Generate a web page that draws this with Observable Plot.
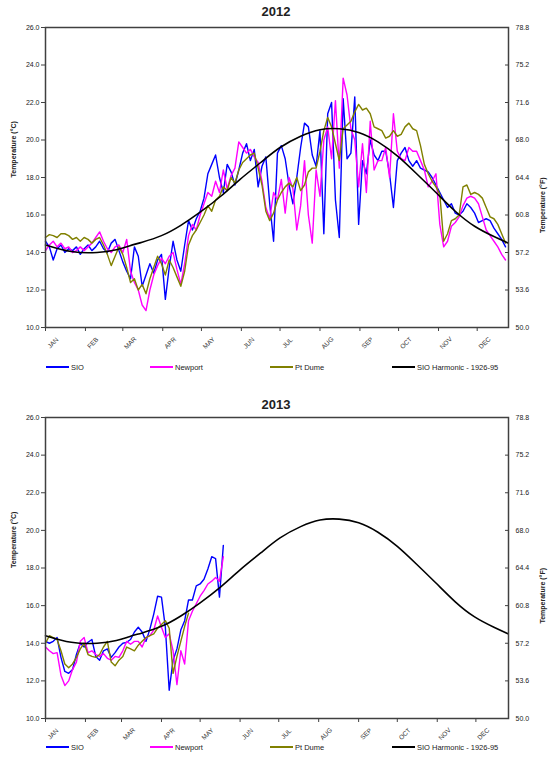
<!DOCTYPE html>
<html><head><meta charset="utf-8">
<script src="https://cdn.jsdelivr.net/npm/d3@7"></script>
<script src="https://cdn.jsdelivr.net/npm/@observablehq/plot@0.6"></script>
<style>
body{margin:0;background:#fff;font-family:"Liberation Sans",Arial,sans-serif;}
#page{position:relative;width:552px;height:764px;overflow:hidden;background:#fff;}
.panel{position:absolute;left:0;}
.title{position:absolute;left:0;width:552px;text-align:center;font-weight:bold;font-size:13px;color:#222;line-height:14px;}
.legend{position:absolute;left:0;width:552px;height:12px;font-size:7.5px;color:#222;}
.item{position:absolute;top:0;height:12px;display:flex;align-items:center;white-space:nowrap;}
.sw{display:inline-block;width:23px;height:0;border-top:2px solid;margin-right:2px;}
</style></head><body><div id="page"></div>
<script>
// ---- text / tick labels ----
const seriesNames = ["SIO", "Newport", "Pt Dume", "SIO Harmonic - 1926-95"];
const seriesColors = ["#0000ff", "#ff00ff", "#808000", "#000000"];
const cTicks = [10, 12, 14, 16, 18, 20, 22, 24, 26];
const fTickLabels = ["50.0", "53.6", "57.2", "60.8", "64.4", "68.0", "71.6", "75.2", "78.8"];
const monthLabels = ["JAN","FEB","MAR","APR","MAY","JUN","JUL","AUG","SEP","OCT","NOV","DEC"];
const yTitleC = "Temperature (°C)";
const yTitleF = "Temperature (°F)";

// ---- harmonic (day of year, °C) ----
const harmonicDays = [0,20,40,55,65,75,90,105,120,136,151,167,182,198,213,228,243,258,273,288,303,318,333,348,359];
const harmonicTemp = [14.4,14.05,14.0,14.15,14.35,14.55,14.9,15.45,16.15,17.0,17.9,18.8,19.6,20.2,20.55,20.6,20.4,19.9,19.15,18.2,17.2,16.2,15.4,14.85,14.5];

// ---- 2012 (every 3rd day of year) ----
const days2012 = d3.range(0, 360, 3);
const sio2012 = [
14.6,14.3,13.6,14.2,14.4,14.0,14.2,14.1,14.3,13.9,
14.2,14.4,14.1,14.3,14.6,14.2,14.0,14.5,14.7,14.1,
13.5,13.0,12.6,14.3,13.8,12.2,12.8,13.4,12.9,13.6,
13.9,11.5,13.2,14.6,13.6,13.0,14.4,15.7,15.2,15.8,
16.2,16.9,18.2,18.7,19.2,18.0,17.2,18.7,18.3,17.6,
18.4,19.3,19.8,18.9,19.5,17.5,18.6,19.1,16.6,14.6,
19.3,19.7,19.0,17.6,16.6,18.0,19.6,20.9,20.7,19.2,
18.6,20.5,15.0,21.4,22.0,16.8,14.8,22.2,19.0,19.3,
22.3,15.5,18.9,18.2,20.0,19.2,18.9,19.4,19.4,18.2,
16.4,18.9,19.3,19.6,18.9,18.6,18.9,18.5,18.4,18.3,
18.0,17.6,17.2,16.8,16.4,16.6,16.1,16.0,16.2,16.6,
16.4,16.1,15.6,15.7,15.8,15.7,15.3,15.0,14.7,14.3];
const newport2012 = [
14.1,14.4,14.6,14.3,14.5,14.2,14.3,14.0,14.1,14.3,
14.1,14.3,14.5,14.8,15.1,14.6,14.2,14.0,14.3,14.4,
14.0,14.7,13.0,12.4,12.0,11.2,10.9,12.0,12.8,13.3,
13.7,13.4,13.8,14.0,13.1,12.3,13.4,14.9,15.5,15.2,
16.0,16.6,17.2,17.0,17.8,17.2,18.4,17.4,18.1,18.5,
19.9,19.6,19.3,19.5,19.1,18.8,17.8,16.4,15.8,17.2,
16.8,17.9,16.1,18.0,17.4,15.2,16.5,18.9,16.0,14.5,
18.4,17.0,20.0,20.7,19.0,22.1,18.5,23.3,22.4,20.6,
20.0,17.5,19.8,17.2,21.0,18.4,18.9,18.9,19.6,18.0,
21.4,19.4,19.0,18.9,19.6,19.4,19.4,18.9,18.4,17.5,
17.8,18.2,15.5,14.3,14.6,15.4,15.6,15.9,16.5,16.9,
17.0,16.9,16.6,15.9,15.2,14.9,14.6,14.3,13.9,13.6];
const dume2012 = [
14.8,14.95,14.9,14.8,15.0,15.0,14.9,14.7,14.8,14.6,
14.8,14.7,14.5,14.7,14.8,14.4,13.9,13.3,13.8,14.3,
13.9,13.2,12.4,12.6,12.0,12.3,11.8,12.6,13.2,13.8,
13.4,12.8,13.6,13.2,12.7,12.2,13.0,14.4,14.9,15.2,
15.6,16.0,16.5,16.2,16.8,17.0,17.5,17.3,18.0,17.7,
18.4,18.8,19.0,19.2,19.3,18.5,17.6,16.2,15.7,16.1,
16.8,17.2,17.5,17.7,17.5,18.0,17.3,17.6,18.3,18.5,
18.5,19.4,20.5,21.2,20.7,19.8,18.9,20.6,20.8,21.0,
21.5,21.9,21.6,21.7,21.4,20.7,20.6,20.5,20.1,20.2,
20.5,20.2,20.3,20.7,20.9,20.6,20.5,19.7,18.7,18.2,
17.8,17.5,17.1,14.6,15.0,15.7,15.8,16.0,17.5,17.6,
17.1,17.2,17.1,16.9,16.4,15.9,15.8,15.5,15.0,14.5];

// ---- 2013 (every 3rd day of year, to mid-May) ----
const days2013 = d3.range(0, 139, 3);
const sio2013 = [
14.1,14.0,14.1,14.3,13.25,12.5,12.4,12.6,13.4,14.0,
13.8,14.05,14.2,13.3,13.1,13.6,13.7,13.25,13.5,13.8,
14.0,14.05,14.2,14.6,14.85,14.6,14.1,14.75,15.55,16.5,
16.45,14.85,11.5,13.1,13.7,14.7,15.2,16.3,16.3,17.05,
17.15,17.4,17.95,18.6,18.5,16.45,19.2];
const newport2013 = [
13.8,13.6,13.45,13.5,12.3,11.75,12.0,12.6,13.0,14.1,
14.3,13.5,13.6,13.4,13.3,13.45,13.2,13.1,13.3,13.25,
13.6,14.1,13.95,14.1,14.1,13.8,14.3,14.4,14.7,15.45,
14.85,14.3,14.5,13.6,11.8,13.6,12.9,15.2,15.7,16.1,
16.5,16.8,17.15,17.3,17.5,17.3,18.6];
const days2013Dume = d3.range(0, 112, 3);
const dume2013 = [
14.0,14.4,14.3,14.2,13.6,12.9,12.7,12.9,13.25,13.7,
14.0,13.4,13.3,13.25,13.4,13.8,14.1,13.0,12.8,13.1,
13.3,13.8,13.7,13.6,13.9,14.1,14.3,14.4,14.5,14.8,
15.0,15.2,14.8,12.4,13.3,14.1,14.9,15.6];

const page = document.getElementById("page");
const FONT = "'Liberation Sans', Arial, sans-serif";

function makePanel(opts) {
  const {year, top, height, marginBottom, series, titleTop, legendTop} = opts;
  const t0 = Date.UTC(year, 0, 1);
  const toDate = d => new Date(t0 + d * 864e5);
  const domain = [toDate(0), toDate(359.3)];
  const months = d3.utcMonths(toDate(0), toDate(359.3));
  const harmonic = harmonicDays.map((d, i) => ({date: toDate(d), temp: harmonicTemp[i]}));
  const lineMarks = series.map(s => Plot.line(
    s.days.map((d, i) => ({date: toDate(d), temp: s.values[i]})),
    {x: "date", y: "temp", stroke: s.color, strokeWidth: 1.4}
  ));
  const chart = Plot.plot({
    width: 552, height,
    marginLeft: 45, marginRight: 44, marginTop: 27, marginBottom,
    style: {fontFamily: FONT, background: "white", overflow: "visible", color: "#222"},
    x: {type: "utc", domain},
    y: {domain: [10, 26]},
    marks: [
      ...lineMarks,
      Plot.line(harmonic, {x: "date", y: "temp", stroke: seriesColors[3], strokeWidth: 1.6, curve: "natural"}),
      Plot.axisY({ticks: cTicks, tickSize: 4, tickPadding: 2, tickFormat: d3.format(".1f"), fontSize: 7, label: null, stroke: "#404040"}),
      Plot.axisY({anchor: "right", ticks: cTicks, tickSize: -4, tickFormat: () => "", label: null, stroke: "#404040"}),
      Plot.axisY({anchor: "right", ticks: cTicks, tickSize: 0, tickPadding: 7, tickFormat: d => fTickLabels[cTicks.indexOf(d)], fontSize: 7, label: null}),
      Plot.axisX({ticks: months, tickSize: 4, tickFormat: () => "", label: null, stroke: "#404040"}),
      Plot.text(months, {x: d => d, frameAnchor: "bottom", text: (d, i) => monthLabels[i], rotate: -45, dx: 9, dy: 17, fontSize: 6.5, fill: "#333"}),
      Plot.text([yTitleC], {frameAnchor: "left", dx: -32, rotate: -90, fontSize: 7, fontWeight: "bold", fill: "#222"}),
      Plot.text([yTitleF], {frameAnchor: "right", dx: 34, rotate: -90, fontSize: 7, fontWeight: "bold", fill: "#222"}),
      Plot.frame({stroke: "#404040", strokeWidth: 1.5})
    ]
  });
  const wrap = document.createElement("div");
  wrap.className = "panel";
  wrap.style.top = top + "px";
  wrap.appendChild(chart);
  page.appendChild(wrap);

  const title = document.createElement("div");
  title.className = "title";
  title.style.top = titleTop + "px";
  title.textContent = String(year);
  page.appendChild(title);

  const legend = document.createElement("div");
  legend.className = "legend";
  legend.style.top = legendTop + "px";
  const lefts = [46, 150, 270, 392];
  seriesNames.forEach((n, i) => {
    const it = document.createElement("div");
    it.className = "item";
    it.style.left = lefts[i] + "px";
    const sw = document.createElement("span");
    sw.className = "sw";
    sw.style.borderTopColor = seriesColors[i];
    it.appendChild(sw);
    const tx = document.createElement("span");
    tx.textContent = n;
    it.appendChild(tx);
    legend.appendChild(it);
  });
  page.appendChild(legend);
}

makePanel({
  year: 2012, top: 0, height: 380, marginBottom: 53, titleTop: 5, legendTop: 361,
  series: [
    {days: days2012, values: sio2012, color: seriesColors[0]},
    {days: days2012, values: newport2012, color: seriesColors[1]},
    {days: days2012, values: dume2012, color: seriesColors[2]}
  ]
});
makePanel({
  year: 2013, top: 390, height: 374, marginBottom: 46, titleTop: 398, legendTop: 741,
  series: [
    {days: days2013, values: sio2013, color: seriesColors[0]},
    {days: days2013, values: newport2013, color: seriesColors[1]},
    {days: days2013Dume, values: dume2013, color: seriesColors[2]}
  ]
});
</script></body></html>
